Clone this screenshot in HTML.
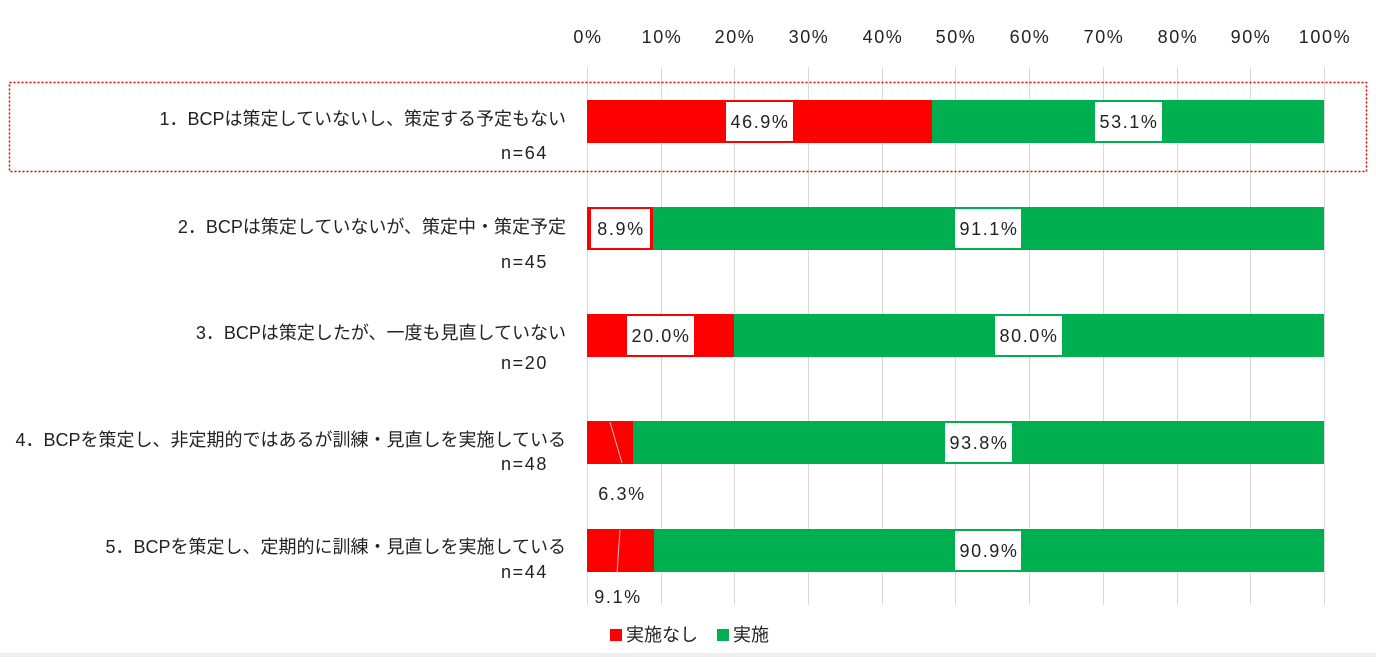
<!DOCTYPE html>
<html><head><meta charset="utf-8"><style>
body{margin:0;background:#fff;}
svg text{font-family:"Liberation Sans","Noto Sans CJK JP",sans-serif;font-size:18px;fill:#222;}
.n{letter-spacing:1.6px;}
</style></head><body>
<svg width="1376" height="657" viewBox="0 0 1376 657" xmlns="http://www.w3.org/2000/svg">
<rect x="0" y="653" width="1376" height="4" fill="#eee"/>
<g stroke="#d9d9d9" stroke-width="1">
<line x1="587.5" y1="67" x2="587.5" y2="605"/><line x1="661.5" y1="67" x2="661.5" y2="605"/>
<line x1="734.5" y1="67" x2="734.5" y2="605"/><line x1="808.5" y1="67" x2="808.5" y2="605"/>
<line x1="882.5" y1="67" x2="882.5" y2="605"/><line x1="955.5" y1="67" x2="955.5" y2="605"/>
<line x1="1029.5" y1="67" x2="1029.5" y2="605"/><line x1="1103.5" y1="67" x2="1103.5" y2="605"/>
<line x1="1177.5" y1="67" x2="1177.5" y2="605"/><line x1="1250.5" y1="67" x2="1250.5" y2="605"/>
<line x1="1324.5" y1="67" x2="1324.5" y2="605"/>
</g>
<g text-anchor="middle" class="n">
<text x="588" y="43">0%</text><text x="662" y="43">10%</text><text x="735" y="43">20%</text>
<text x="809" y="43">30%</text><text x="883" y="43">40%</text><text x="956" y="43">50%</text>
<text x="1030" y="43">60%</text><text x="1104" y="43">70%</text><text x="1178" y="43">80%</text>
<text x="1251" y="43">90%</text><text x="1325" y="43">100%</text>
</g>
<rect x="9.5" y="82.5" width="1357" height="89" fill="none" stroke="#e00000" stroke-width="1.5" stroke-dasharray="2,2"/>
<rect x="587" y="100" width="345" height="43" fill="#ff0000"/><rect x="932" y="100" width="392" height="43" fill="#00b050"/>
<rect x="587" y="207" width="66" height="43" fill="#ff0000"/><rect x="653" y="207" width="671" height="43" fill="#00b050"/>
<rect x="587" y="314" width="147" height="43" fill="#ff0000"/><rect x="734" y="314" width="590" height="43" fill="#00b050"/>
<rect x="587" y="421" width="46" height="43" fill="#ff0000"/><rect x="633" y="421" width="691" height="43" fill="#00b050"/>
<rect x="587" y="529" width="67" height="43" fill="#ff0000"/><rect x="654" y="529" width="670" height="43" fill="#00b050"/>
<g fill="#fff">
<rect x="726" y="102" width="67" height="39"/><rect x="1095" y="102" width="67" height="39"/>
<rect x="591" y="209" width="59" height="39"/><rect x="955" y="209" width="66" height="39"/>
<rect x="627" y="316" width="67" height="39"/><rect x="995" y="316" width="67" height="39"/>
<rect x="945" y="423" width="67" height="39"/><rect x="955" y="531" width="66" height="39"/>
</g>
<g text-anchor="middle" class="n">
<text x="760" y="128">46.9%</text><text x="1129" y="128">53.1%</text>
<text x="621" y="235">8.9%</text><text x="989" y="235">91.1%</text>
<text x="661" y="342">20.0%</text><text x="1029" y="342">80.0%</text>
<text x="979" y="449">93.8%</text><text x="989" y="557">90.9%</text>
<text x="622" y="500">6.3%</text><text x="618" y="603">9.1%</text>
</g>
<g stroke="#bfbfbf" stroke-width="1"><line x1="610" y1="422" x2="622" y2="463"/><line x1="620" y1="530" x2="617" y2="573"/></g>
<g text-anchor="end">
<text x="566" y="125">1．BCPは策定していないし、策定する予定もない</text><text x="548" y="159" class="n">n=64</text>
<text x="566" y="233">2．BCPは策定していないが、策定中・策定予定</text><text x="548" y="268" class="n">n=45</text>
<text x="566" y="339">3．BCPは策定したが、一度も見直していない</text><text x="548" y="369" class="n">n=20</text>
<text x="566" y="446">4．BCPを策定し、非定期的ではあるが訓練・見直しを実施している</text><text x="548" y="470" class="n">n=48</text>
<text x="566" y="553">5．BCPを策定し、定期的に訓練・見直しを実施している</text><text x="548" y="578" class="n">n=44</text>
</g>
<rect x="610" y="629" width="12" height="12" fill="#ff0000"/><text x="626" y="641">実施なし</text>
<rect x="717" y="629" width="12" height="12" fill="#00b050"/><text x="733" y="641">実施</text>
</svg>
</body></html>
